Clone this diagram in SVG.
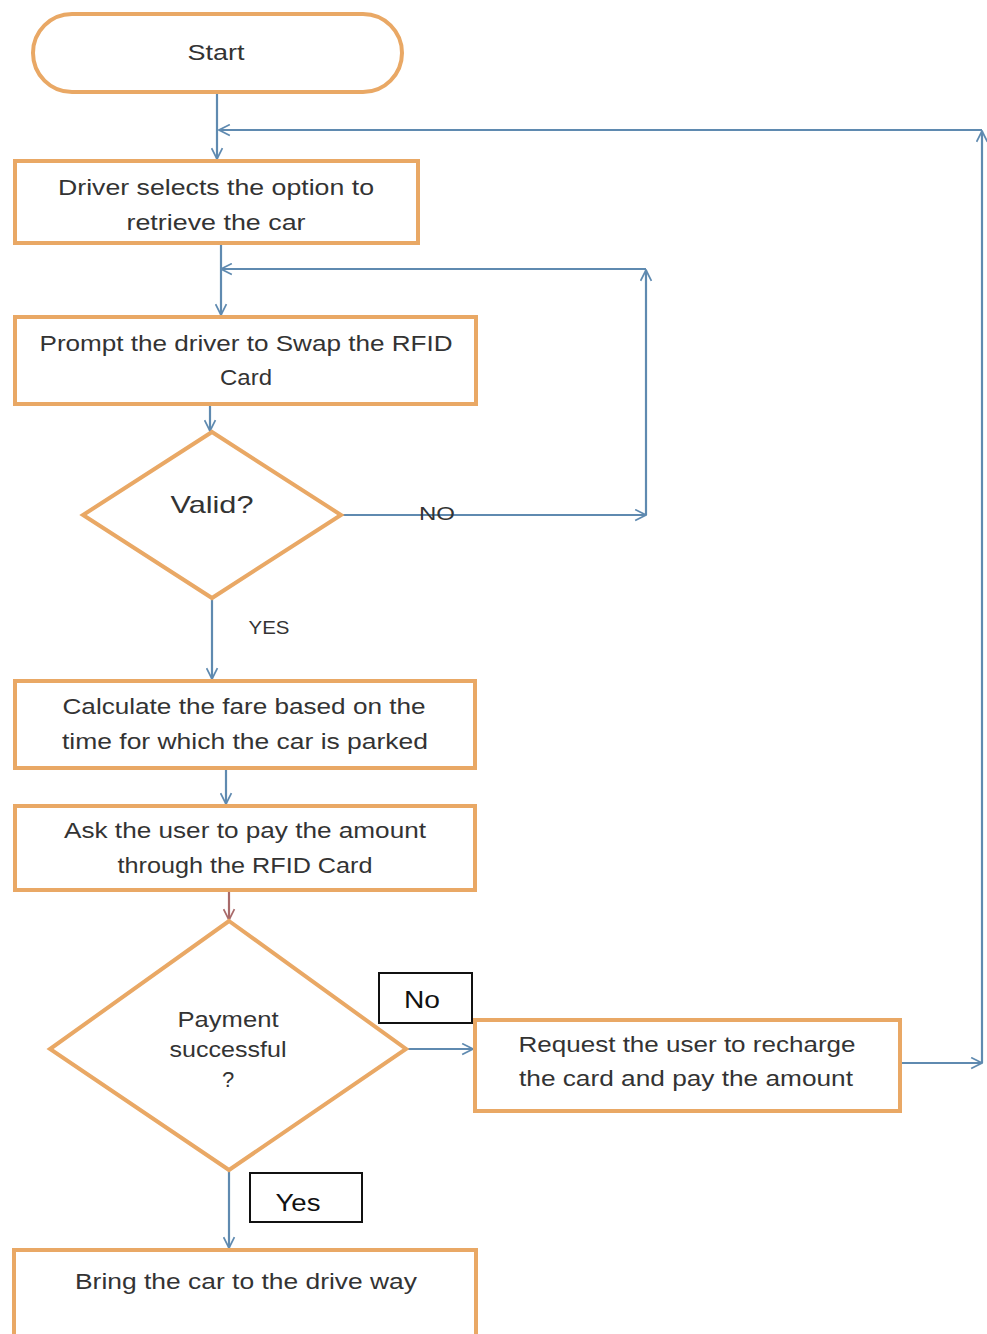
<svg xmlns="http://www.w3.org/2000/svg" width="987" height="1334" viewBox="0 0 987 1334">
<defs>
<marker id="ah" viewBox="0 0 12 12" refX="11" refY="6" markerWidth="13" markerHeight="13" markerUnits="userSpaceOnUse" orient="auto">
<path d="M1,1 L11,6 L1,11" fill="none" stroke="#5f8ab0" stroke-width="1.6"/>
</marker>
<marker id="ahr" viewBox="0 0 12 12" refX="11" refY="6" markerWidth="13" markerHeight="13" markerUnits="userSpaceOnUse" orient="auto">
<path d="M1,1 L11,6 L1,11" fill="none" stroke="#a86a6a" stroke-width="1.6"/>
</marker>
</defs>
<style>
.n{fill:#ffffff;stroke:#e9a865;stroke-width:4}
.t{font-family:"Liberation Sans",Arial,sans-serif;font-size:22px;fill:#333333;text-anchor:middle}
.c{fill:none;stroke:#5f8ab0;stroke-width:2.2}
.lb{fill:#ffffff;stroke:#111111;stroke-width:2}
.lt{font-family:"Liberation Sans",Arial,sans-serif;font-size:23px;fill:#111111;text-anchor:middle}
</style>
<rect width="987" height="1334" fill="#ffffff"/>
<g id="connectors">
<line class="c" x1="217" y1="92" x2="217" y2="159" marker-end="url(#ah)"/>
<line class="c" x1="982" y1="1063" x2="982" y2="131" marker-end="url(#ah)"/>
<line class="c" x1="982" y1="130" x2="219" y2="130" marker-end="url(#ah)"/>
<line class="c" x1="221" y1="243" x2="221" y2="315" marker-end="url(#ah)"/>
<line class="c" x1="646" y1="515" x2="646" y2="270" marker-end="url(#ah)"/>
<line class="c" x1="646" y1="269" x2="221" y2="269" marker-end="url(#ah)"/>
<line class="c" x1="210" y1="404" x2="210" y2="431" marker-end="url(#ah)"/>
<line class="c" x1="341" y1="515" x2="646" y2="515" marker-end="url(#ah)"/>
<line class="c" x1="212" y1="598" x2="212" y2="679" marker-end="url(#ah)"/>
<line class="c" x1="226" y1="768" x2="226" y2="804" marker-end="url(#ah)"/>
<line class="c" x1="229" y1="890" x2="229" y2="920" style="stroke:#a86a6a" marker-end="url(#ahr)"/>
<line class="c" x1="406" y1="1049" x2="473" y2="1049" marker-end="url(#ah)"/>
<line class="c" x1="901" y1="1063" x2="982" y2="1063" marker-end="url(#ah)"/>
<line class="c" x1="229" y1="1170" x2="229" y2="1248" marker-end="url(#ah)"/>
</g>
<g id="start">
<rect class="n" x="33" y="14" width="369" height="78" rx="39" ry="39"/>
<text class="t" x="216" y="60" textLength="57" lengthAdjust="spacingAndGlyphs">Start</text>
</g>
<g id="driver-selects">
<rect class="n" x="15" y="161" width="403" height="82"/>
<text class="t" x="216" y="195" textLength="316" lengthAdjust="spacingAndGlyphs">Driver selects the option to</text>
<text class="t" x="216" y="230" textLength="179" lengthAdjust="spacingAndGlyphs">retrieve the car</text>
</g>
<g id="prompt-rfid">
<rect class="n" x="15" y="317" width="461" height="87"/>
<text class="t" x="246" y="351" textLength="413" lengthAdjust="spacingAndGlyphs">Prompt the driver to Swap the RFID</text>
<text class="t" x="246" y="385" textLength="52" lengthAdjust="spacingAndGlyphs">Card</text>
</g>
<g id="valid">
<polygon class="n" points="212,432 341,515 212,598 83,515"/>
<text class="t" x="212" y="513" style="font-size:24px" textLength="83" lengthAdjust="spacingAndGlyphs">Valid?</text>
</g>
<g id="no-label-1">
<text class="t" x="437" y="520" style="font-size:19px" textLength="36" lengthAdjust="spacingAndGlyphs">NO</text>
</g>
<g id="yes-label-1">
<text class="t" x="269" y="634" style="font-size:19px" textLength="41" lengthAdjust="spacingAndGlyphs">YES</text>
</g>
<g id="calculate-fare">
<rect class="n" x="15" y="681" width="460" height="87"/>
<text class="t" x="244" y="714" textLength="363" lengthAdjust="spacingAndGlyphs">Calculate the fare based on the</text>
<text class="t" x="245" y="749" textLength="366" lengthAdjust="spacingAndGlyphs">time for which the car is parked</text>
</g>
<g id="ask-pay">
<rect class="n" x="15" y="806" width="460" height="84"/>
<text class="t" x="245" y="838" textLength="362" lengthAdjust="spacingAndGlyphs">Ask the user to pay the amount</text>
<text class="t" x="245" y="873" textLength="255" lengthAdjust="spacingAndGlyphs">through the RFID Card</text>
</g>
<g id="payment-successful">
<polygon class="n" points="229,921 406,1049 229,1170 50,1049"/>
<text class="t" x="228" y="1027" textLength="101" lengthAdjust="spacingAndGlyphs">Payment</text>
<text class="t" x="228" y="1057" textLength="117" lengthAdjust="spacingAndGlyphs">successful</text>
<text class="t" x="228" y="1087">?</text>
</g>
<g id="no-label-2">
<rect class="lb" x="379" y="973" width="93" height="50"/>
<text class="lt" x="422" y="1008" textLength="36" lengthAdjust="spacingAndGlyphs">No</text>
</g>
<g id="request-recharge">
<rect class="n" x="475" y="1020" width="425" height="91"/>
<text class="t" x="687" y="1052" textLength="337" lengthAdjust="spacingAndGlyphs">Request the user to recharge</text>
<text class="t" x="686" y="1086" textLength="334" lengthAdjust="spacingAndGlyphs">the card and pay the amount</text>
</g>
<g id="yes-label-2">
<rect class="lb" x="250" y="1173" width="112" height="49"/>
<text class="lt" x="298" y="1211" textLength="45" lengthAdjust="spacingAndGlyphs">Yes</text>
</g>
<g id="bring-car">
<rect class="n" x="14" y="1250" width="462" height="90"/>
<text class="t" x="246" y="1289" textLength="342" lengthAdjust="spacingAndGlyphs">Bring the car to the drive way</text>
</g>
</svg>
